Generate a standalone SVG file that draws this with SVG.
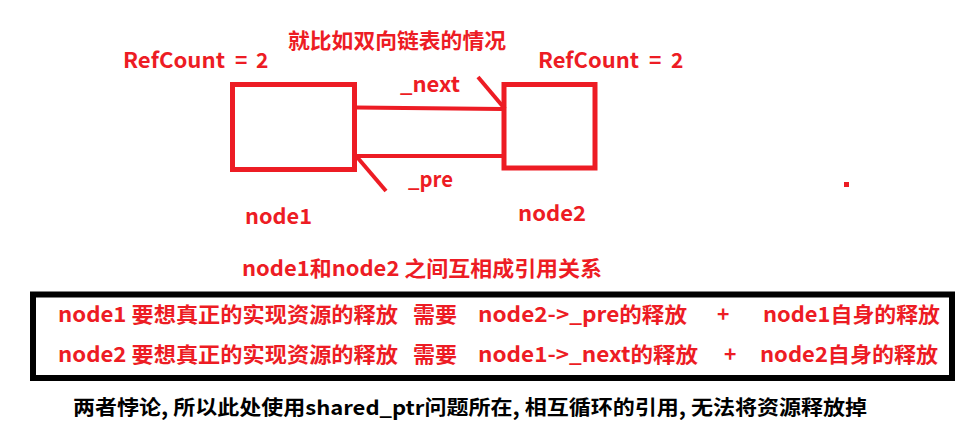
<svg xmlns="http://www.w3.org/2000/svg" width="967" height="429" viewBox="0 0 967 429">
<style>
.t{font-family:"Noto Sans CJK SC","Microsoft YaHei","DejaVu Sans",sans-serif;font-weight:700;fill:#ed1c24;font-size:21px}
.k{font-family:"Noto Sans CJK SC","Microsoft YaHei","DejaVu Sans",sans-serif;font-weight:700;fill:#000;font-size:20px}
.box{fill:none;stroke:#ed1c24;stroke-width:5}
.ln{fill:none;stroke:#ed1c24;stroke-width:4;stroke-linecap:butt}
</style>
<rect width="967" height="429" fill="#fff"/>
<text class="t" x="288" y="48" font-size="22" textLength="218" lengthAdjust="spacingAndGlyphs">就比如双向链表的情况</text>
<text class="t" y="68"><tspan x="123" textLength="102" lengthAdjust="spacingAndGlyphs">RefCount</tspan><tspan x="235">=</tspan><tspan x="256">2</tspan></text>
<text class="t" y="68"><tspan x="538" textLength="101" lengthAdjust="spacingAndGlyphs">RefCount</tspan><tspan x="649">=</tspan><tspan x="671">2</tspan></text>
<g id="node1">
<rect class="box" x="232.5" y="84.5" width="122" height="85"/>
<text class="t" x="245" y="224" textLength="67" lengthAdjust="spacingAndGlyphs">node1</text>
</g>
<g id="node2">
<rect class="box" x="504" y="84.5" width="91" height="83.5"/>
<text class="t" x="518" y="221" textLength="68" lengthAdjust="spacingAndGlyphs">node2</text>
</g>
<g id="connectors">
<path class="ln" d="M356 107.5 L502 109"/>
<path class="ln" d="M478 77 L505 109"/>
<text class="t" x="400" y="92" textLength="60" lengthAdjust="spacingAndGlyphs">_next</text>
<path class="ln" d="M356 156 L502 156"/>
<path class="ln" d="M357 157 L386 191"/>
<text class="t" x="408" y="187" textLength="45" lengthAdjust="spacingAndGlyphs">_pre</text>
</g>
<rect x="844" y="182" width="5" height="5" fill="#ed1c24"/>
<text class="t" x="242" y="276" textLength="360" lengthAdjust="spacingAndGlyphs">node1和node2 之间互相成引用关系</text>
<rect x="33" y="294.5" width="919" height="83.5" fill="none" stroke="#000" stroke-width="6"/>
<text class="t" x="58" y="322" textLength="340" lengthAdjust="spacingAndGlyphs">node1 要想真正的实现资源的释放</text>
<text class="t" x="413" y="322" textLength="44" lengthAdjust="spacingAndGlyphs">需要</text>
<text class="t" x="478" y="322" textLength="209" lengthAdjust="spacingAndGlyphs">node2-&gt;_pre的释放</text>
<text class="t" x="717" y="322">+</text>
<text class="t" x="763" y="322" textLength="177" lengthAdjust="spacingAndGlyphs">node1自身的释放</text>
<text class="t" x="58" y="362" textLength="340" lengthAdjust="spacingAndGlyphs">node2 要想真正的实现资源的释放</text>
<text class="t" x="413" y="362" textLength="44" lengthAdjust="spacingAndGlyphs">需要</text>
<text class="t" x="478" y="362" textLength="220" lengthAdjust="spacingAndGlyphs">node1-&gt;_next的释放</text>
<text class="t" x="724" y="362">+</text>
<text class="t" x="760" y="362" textLength="178" lengthAdjust="spacingAndGlyphs">node2自身的释放</text>
<text class="k" x="73" y="415" textLength="794" lengthAdjust="spacingAndGlyphs">两者悖论, 所以此处使用shared_ptr问题所在, 相互循环的引用, 无法将资源释放掉</text>
</svg>
